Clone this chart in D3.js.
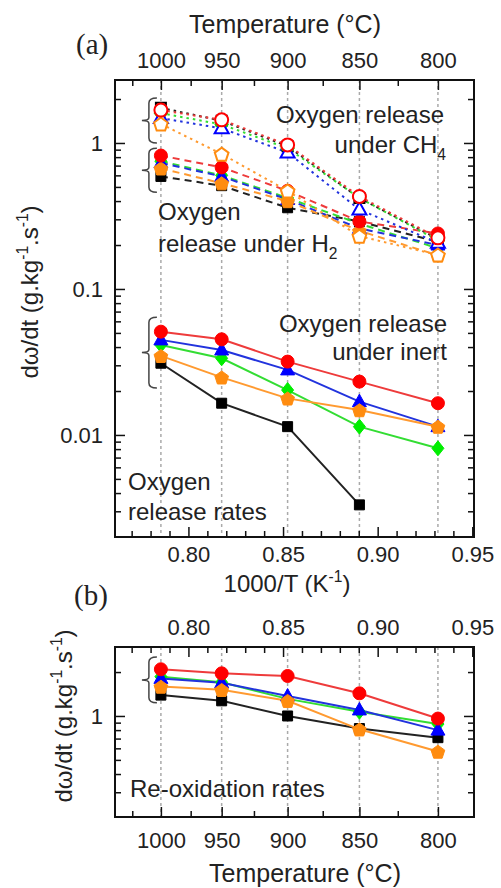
<!DOCTYPE html>
<html>
<head>
<meta charset="utf-8">
<script src="https://cdn.jsdelivr.net/npm/d3@7"></script>
<style>
body { margin: 0; background: #fff; }
svg { font-family: "Liberation Sans", Arial, sans-serif; }
</style>
</head>
<body>
<script>
// run temperatures and axis ticks
var tempsC = [1000, 950, 900, 850, 800];
var tempMinor = [1025, 975, 925, 875, 825];
var invMajor = [0.80, 0.85, 0.90, 0.95];
var invMinor = [0.77, 0.78, 0.79, 0.81, 0.82, 0.83, 0.84, 0.86, 0.87, 0.88, 0.89, 0.91, 0.92, 0.93, 0.94];
var yMajorA = [0.01, 0.1, 1];
var yMinorA = [0.003, 0.004, 0.005, 0.006, 0.007, 0.008, 0.009, 0.02, 0.03, 0.04, 0.05, 0.06, 0.07, 0.08, 0.09,
               0.2, 0.3, 0.4, 0.5, 0.6, 0.7, 0.8, 0.9, 2];
var yMajorB = [1];
var yMinorB = [0.3, 0.4, 0.5, 0.6, 0.7, 0.8, 0.9, 2];

// materials, in drawing order
var materials = ["square", "diamond", "triangle", "pentagon", "circle"];
var markerColor = { square: "#000000", diamond: "#00ee00", triangle: "#0000ff", pentagon: "#ff8c10", circle: "#ff0000" };
var lineColor = { square: "#222222", diamond: "#33dd33", triangle: "#2233dd", pentagon: "#ff9a30", circle: "#ee3b3b" };

// oxygen release rates (g/kg/s), one row per material, one value per temperature
var ch4Rates = [
  [1.74, 1.42, 0.95, 0.42, 0.22],
  [1.60, 1.34, 0.92, 0.42, 0.215],
  [1.48, 1.26, 0.86, 0.35, 0.207],
  [1.35, 0.84, 0.47, 0.23, 0.171],
  [1.68, 1.44, 0.97, 0.43, 0.224]
];
var h2Rates = [
  [0.59, 0.51, 0.36, 0.29, 0.21],
  [0.75, 0.60, 0.42, 0.28, 0.19],
  [0.73, 0.59, 0.41, 0.26, 0.20],
  [0.67, 0.53, 0.40, 0.25, 0.17],
  [0.82, 0.68, 0.47, 0.29, 0.24]
];
var inertRates = [
  [0.031, 0.0165, 0.0114, 0.00332, null],
  [0.0413, 0.0335, 0.0203, 0.0114, 0.0081],
  [0.0448, 0.0382, 0.0279, 0.0169, 0.0114],
  [0.0348, 0.0248, 0.0178, 0.0148, 0.0114],
  [0.051, 0.0452, 0.0318, 0.0232, 0.0165]
];
// re-oxidation rates
var reoxRates = [
  [1.39, 1.27, 1.00, 0.82, 0.71],
  [1.86, 1.70, 1.31, 1.07, 0.88],
  [1.81, 1.69, 1.37, 1.10, 0.80],
  [1.59, 1.51, 1.27, 0.81, 0.57],
  [2.09, 1.96, 1.88, 1.43, 0.96]
];
// bracket extents (rate units) for each group
var bracketsA = [[1.0, 2.03], [0.46, 0.92], [0.021, 0.064]];
var bracketsB = [[1.23, 2.54]];

var invT = tempsC.map(function(t) { return 1000 / (t + 273.15); });
function inv(t) { return 1000 / (t + 273.15); }

var W = 501, H = 888;
var svg = d3.select("body").append("svg").attr("width", W).attr("height", H);

var pA = { left: 115, right: 474, top: 80, bottom: 537 };
var pB = { left: 115, right: 474, top: 647, bottom: 817 };

var x = d3.scaleLinear().domain([0.7612, 0.9509]).range([pA.left, pA.right]);
var yA = d3.scaleLog().domain([0.002, 2.7]).range([pA.bottom, pA.top]);
var yB = d3.scaleLog().domain([0.203, 2.97]).range([pB.bottom, pB.top]);

function markerPath(shape) {
  if (shape == "circle") return d3.symbol(d3.symbolCircle, Math.PI * 6.5 * 6.5)();
  if (shape == "square") return "M-5,-5h10v10h-10Z";
  if (shape == "triangle") return "M0,-7.5L7,5L-7,5Z";
  if (shape == "diamond") return "M0,-7.5L6,0L0,7.5L-6,0Z";
  var pts = d3.range(5).map(function(k) {
    var a = -Math.PI / 2 + k * 2 * Math.PI / 5;
    return [7.2 * Math.cos(a), 7.2 * Math.sin(a) + 0.8];
  });
  return "M" + pts.join("L") + "Z";
}

function styleAxis(g, size) {
  g.attr("font-size", size).attr("font-family", null);
  g.select(".domain").remove();
  g.selectAll("line").attr("stroke", "#111").attr("stroke-width", 1.5);
  g.selectAll("text").attr("fill", "#222");
}

function addAxis(p, axisFn, scale, vals, len, pad, fmt, pos) {
  var g = svg.append("g").attr("transform", pos);
  g.call(axisFn(scale).tickValues(vals).tickSize(-len).tickPadding(pad).tickFormat(fmt));
  styleAxis(g, 22);
  return g;
}

function drawPanel(p, y, groups, yMaj, yMin, topTemp) {
  // dotted verticals at run temperatures
  svg.append("g").selectAll("line").data(invT).enter().append("line")
    .attr("x1", function(d) { return x(d); }).attr("x2", function(d) { return x(d); })
    .attr("y1", p.top).attr("y2", p.bottom)
    .attr("stroke", "#aaa").attr("stroke-width", 1.5).attr("stroke-dasharray", "3,3");

  // y axes (left labelled, right mirrored)
  var fmtY = function(d) { return d >= 1 ? d3.format("d")(d) : String(d); };
  addAxis(p, d3.axisLeft, y, yMaj, 10, 12, fmtY, "translate(" + p.left + ",0)");
  addAxis(p, d3.axisLeft, y, yMin, 6, 12, "", "translate(" + p.left + ",0)");
  addAxis(p, d3.axisRight, y, yMaj, 10, 12, "", "translate(" + p.right + ",0)");
  addAxis(p, d3.axisRight, y, yMin, 6, 12, "", "translate(" + p.right + ",0)");

  // x axes: one side temperature, other side 1000/T
  var fmtT = function(d) { return String(Math.round(1000 / d - 273.15)); };
  var fmtI = d3.format(".2f");
  var tempAxis = topTemp ? d3.axisTop : d3.axisBottom;
  var invAxis = topTemp ? d3.axisBottom : d3.axisTop;
  var tempPos = "translate(0," + (topTemp ? p.top : p.bottom) + ")";
  var invPos = "translate(0," + (topTemp ? p.bottom : p.top) + ")";
  addAxis(p, tempAxis, x, tempsC.map(inv), 10, topTemp ? 12 : 15, fmtT, tempPos);
  addAxis(p, tempAxis, x, tempMinor.map(inv), 6, 12, "", tempPos);
  addAxis(p, invAxis, x, invMajor, 10, topTemp ? 9 : 12, fmtI, invPos);
  addAxis(p, invAxis, x, invMinor, 6, 12, "", invPos);

  svg.append("rect").attr("x", p.left).attr("y", p.top)
    .attr("width", p.right - p.left).attr("height", p.bottom - p.top)
    .attr("fill", "none").attr("stroke", "#111").attr("stroke-width", 2);

  var line = d3.line()
    .defined(function(d) { return d != null; })
    .x(function(d, i) { return x(invT[i]); })
    .y(function(d) { return y(d); });

  groups.forEach(function(grp) {
    grp.rates.forEach(function(vals, m) {
      var mat = materials[m];
      svg.append("path").datum(vals).attr("d", line)
        .attr("fill", "none").attr("stroke", lineColor[mat]).attr("stroke-width", 2)
        .attr("stroke-dasharray", grp.dash);
    });
    grp.rates.forEach(function(vals, m) {
      var mat = materials[m];
      svg.append("g").selectAll("path")
        .data(vals.map(function(v, i) { return { v: v, i: i }; }).filter(function(d) { return d.v != null; }))
        .enter().append("path")
        .attr("transform", function(d) { return "translate(" + x(invT[d.i]) + "," + y(d.v) + ")"; })
        .attr("d", markerPath(mat))
        .attr("fill", grp.open ? "#fff" : markerColor[mat])
        .attr("stroke", markerColor[mat]).attr("stroke-width", grp.open ? 2 : 1);
    });
  });
}

function drawBrackets(list, y) {
  var x0 = x(invT[0]) - 12;
  list.forEach(function(b) {
    var y1 = y(b[1]), y2 = y(b[0]), ym = (y1 + y2) / 2;
    svg.append("path")
      .attr("d", "M" + (x0 + 8) + "," + y1 + "Q" + x0 + "," + y1 + " " + x0 + "," + (y1 + 5) +
        "L" + x0 + "," + (ym - 3) + "Q" + x0 + "," + ym + " " + (x0 - 7) + "," + ym +
        "Q" + x0 + "," + ym + " " + x0 + "," + (ym + 3) +
        "L" + x0 + "," + (y2 - 5) + "Q" + x0 + "," + y2 + " " + (x0 + 8) + "," + y2)
      .attr("fill", "none").attr("stroke", "#444").attr("stroke-width", 1.5);
  });
}

drawPanel(pA, yA, [
  { rates: inertRates, dash: null, open: false },
  { rates: h2Rates, dash: "7,5", open: false },
  { rates: ch4Rates, dash: "2.5,4", open: true }
], yMajorA, yMinorA, true);
drawBrackets(bracketsA, yA);

drawPanel(pB, yB, [
  { rates: reoxRates, dash: null, open: false }
], yMajorB, yMinorB, false);
drawBrackets(bracketsB, yB);

// text helpers
function rich(t, parts, size) {
  var shift = 0;
  parts.forEach(function(p) {
    var s = p[1] == "sup" ? -0.42 * size : p[1] == "sub" ? 0.28 * size : 0;
    t.append("tspan").attr("dy", s - shift).attr("font-size", p[1] ? size * 0.65 : size).text(p[0]);
    shift = s;
  });
  return t;
}
function label(xp, yp, anchor, parts, size) {
  var t = svg.append("text").attr("x", xp).attr("y", yp).attr("text-anchor", anchor)
    .attr("fill", "#222").attr("font-size", size);
  return rich(t, parts, size);
}

label(285, 33, "middle", [["Temperature (°C)"]], 25);
label(287, 592, "middle", [["1000/T (K"], ["-1", "sup"], [")"]], 24);
label(305, 882, "middle", [["Temperature (°C)"]], 25);
label(76, 54, "start", [["(a)"]], 29).attr("font-family", "'Liberation Serif', 'Times New Roman', serif");
label(74, 605, "start", [["(b)"]], 29).attr("font-family", "'Liberation Serif', 'Times New Roman', serif");

var yTitle = [["dω/dt  (g.kg"], ["-1", "sup"], [".s"], ["-1", "sup"], [")"]];
label(0, 0, "middle", yTitle, 24).attr("transform", "translate(38,292) rotate(-90)");
label(0, 0, "middle", yTitle, 24).attr("transform", "translate(72,716) rotate(-90)");

// annotations
label(444, 123, "end", [["Oxygen release"]], 24);
label(446, 153, "end", [["under CH"], ["4", "sub"]], 24);
label(158, 220, "start", [["Oxygen"]], 24);
label(158, 252, "start", [["release under H"], ["2", "sub"]], 24);
label(447, 332, "end", [["Oxygen release"]], 24);
label(447, 360, "end", [["under inert"]], 24);
label(128, 490, "start", [["Oxygen"]], 24);
label(128, 520, "start", [["release rates"]], 24);
label(130, 797, "start", [["Re-oxidation rates"]], 24);
</script>
</body>
</html>
